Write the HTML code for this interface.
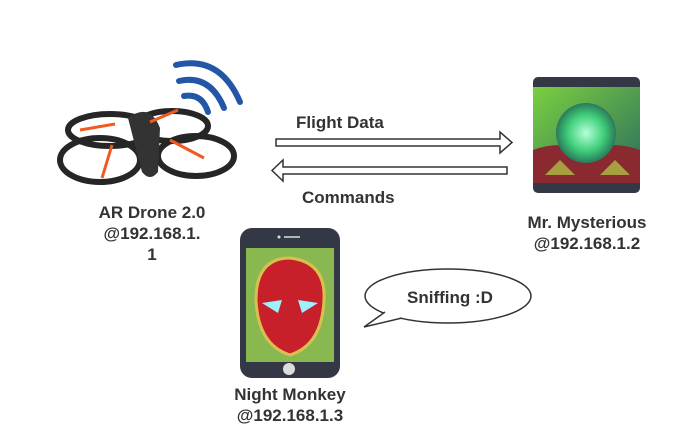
<!DOCTYPE html>
<html><head><style>
body{margin:0;background:#fff;}
svg text{font-family:"Liberation Sans",sans-serif;font-weight:bold;font-size:17px;fill:#333;}
</style></head><body>
<svg width="700" height="441" viewBox="0 0 700 441" xmlns="http://www.w3.org/2000/svg">
<defs>
<radialGradient id="orb" cx="50%" cy="50%" r="50%"><stop offset="0" stop-color="#b8ffd8"/><stop offset="0.6" stop-color="#3fcf7a"/><stop offset="1" stop-color="#2a7a5a"/></radialGradient>
<linearGradient id="bg1" x1="0" y1="0" x2="1" y2="1"><stop offset="0" stop-color="#7ad040"/><stop offset="1" stop-color="#2a6a60"/></linearGradient>
</defs>
<g fill="none" stroke="#2456a8" stroke-width="6" stroke-linecap="round">
<path d="M176 65 Q220 55 240 102"/>
<path d="M179 81 Q210 74 224 108"/>
<path d="M184 96 Q202 93 208 112"/>
</g>
<g fill="none" stroke="#262626" stroke-width="6">
<ellipse cx="110" cy="130" rx="42" ry="16"/>
<ellipse cx="172" cy="126" rx="36" ry="15"/>
<ellipse cx="100" cy="160" rx="40" ry="22"/>
<ellipse cx="196" cy="156" rx="38" ry="20"/>
</g>
<path d="M128 118 Q150 102 160 128 L158 172 Q150 182 142 172 Z" fill="#333"/>
<g stroke="#f05a20" stroke-width="3">
<line x1="80" y1="130" x2="115" y2="124"/><line x1="150" y1="122" x2="178" y2="110"/>
<line x1="112" y1="145" x2="102" y2="178"/><line x1="170" y1="140" x2="204" y2="158"/>
</g>
<path d="M276 139 H500 V132 L512 142.5 L500 153 V146 H276 Z" fill="#fff" stroke="#333" stroke-width="1.5"/>
<path d="M507 167 H283 V160 L272 170.5 L283 181 V174 H507 Z" fill="#fff" stroke="#333" stroke-width="1.5"/>
<text x="296" y="128">Flight Data</text>
<text x="302" y="203">Commands</text>
<rect x="533" y="77" width="107" height="116" rx="5" fill="#343844"/>
<rect x="533" y="87" width="107" height="96" fill="url(#bg1)"/>
<path d="M533 150 Q560 140 586 150 Q612 140 640 150 V183 H533 Z" fill="#8a2a30"/>
<path d="M545 175 L560 160 L575 175 Z M600 175 L615 160 L630 175Z" fill="#a8a040"/>
<circle cx="586" cy="133" r="30" fill="url(#orb)"/>
<text x="152" y="218" text-anchor="middle">AR Drone 2.0</text>
<text x="152" y="239" text-anchor="middle">@192.168.1.</text>
<text x="152" y="260" text-anchor="middle">1</text>
<text x="587" y="228" text-anchor="middle">Mr. Mysterious</text>
<text x="587" y="249" text-anchor="middle">@192.168.1.2</text>
<rect x="240" y="228" width="100" height="150" rx="12" fill="#343844"/>
<rect x="246" y="248" width="88" height="114" fill="#8ab850"/>
<path d="M256 300 Q256 258 290 258 Q326 262 324 300 Q322 345 290 355 Q258 345 256 300 Z" fill="#c8202a" stroke="#d8c050" stroke-width="3"/>
<path d="M262 303 L282 300 L278 313 Z M318 303 L298 300 L302 313 Z" fill="#9ef0ff"/>
<circle cx="289" cy="369" r="6" fill="#ddd"/>
<circle cx="279" cy="237" r="1.5" fill="#ddd"/><line x1="284" y1="237" x2="300" y2="237" stroke="#ddd" stroke-width="1.5"/>
<text x="290" y="400" text-anchor="middle">Night Monkey</text>
<text x="290" y="421" text-anchor="middle">@192.168.1.3</text>
<ellipse cx="448" cy="296" rx="83" ry="27" fill="#fff" stroke="#333" stroke-width="1.5"/>
<polygon points="385,312 364,327 402,318" fill="#fff"/>
<polyline points="385,312 364,327 402,318" fill="none" stroke="#333" stroke-width="1.5"/>
<text x="450" y="303" text-anchor="middle" font-size="18">Sniffing :D</text>
</svg>
</body></html>
